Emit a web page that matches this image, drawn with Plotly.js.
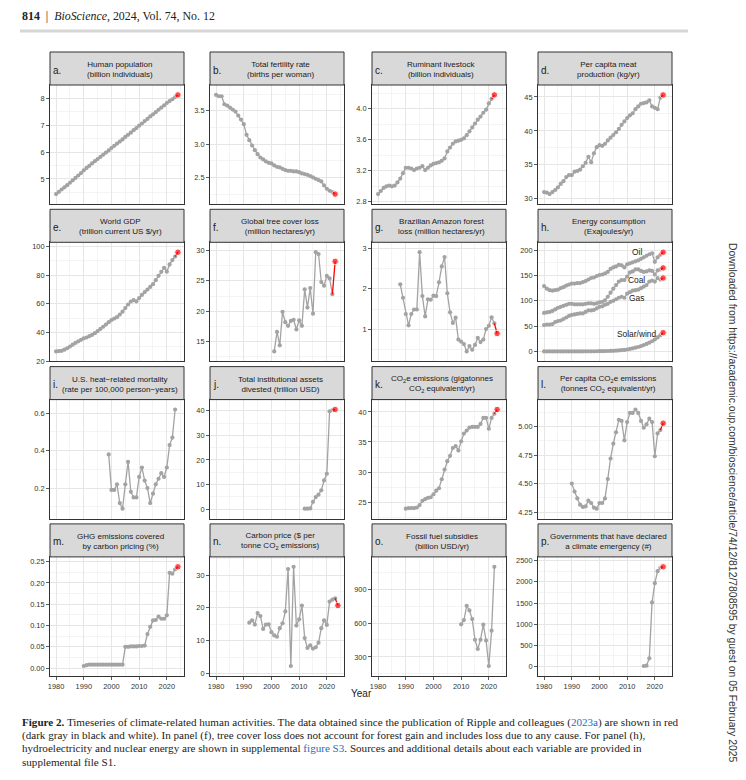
<!DOCTYPE html>
<html>
<head>
<meta charset="utf-8">
<script src="https://cdn.plot.ly/plotly-3.0.1.min.js"></script>
<style>
html,body{margin:0;padding:0;background:#fff;}
#chart{width:746px;height:780px;}
</style>
</head>
<body>
<div id="chart"></div>
<script>
function yrs(a,b){const r=[];for(let y=a;y<=b;y++)r.push(y);return r;}

// ---------------- DATA ----------------
const popYears = yrs(1980,2024);
const popVals = [4.44,4.52,4.61,4.69,4.77,4.86,4.95,5.04,5.13,5.22,5.32,5.41,5.49,5.58,5.66,5.74,5.82,5.90,5.98,6.06,6.15,6.23,6.31,6.39,6.47,6.56,6.64,6.72,6.81,6.89,6.98,7.06,7.15,7.23,7.32,7.40,7.48,7.57,7.65,7.73,7.82,7.89,7.96,8.04,8.12];

const fertYears = yrs(1980,2023);
const fertVals = [3.74,3.72,3.72,3.60,3.58,3.55,3.52,3.49,3.43,3.37,3.30,3.14,3.06,2.98,2.91,2.85,2.80,2.77,2.74,2.72,2.71,2.68,2.66,2.65,2.63,2.61,2.60,2.60,2.59,2.59,2.58,2.56,2.55,2.54,2.52,2.50,2.48,2.46,2.44,2.38,2.33,2.30,2.28,2.25];

const liveYears = yrs(1980,2022);
const liveVals = [2.90,2.94,2.98,3.00,3.01,3.00,3.01,3.05,3.10,3.17,3.24,3.24,3.23,3.21,3.23,3.24,3.26,3.21,3.24,3.27,3.29,3.30,3.31,3.33,3.36,3.45,3.50,3.55,3.58,3.59,3.60,3.62,3.66,3.71,3.76,3.81,3.86,3.90,3.95,3.99,4.07,4.13,4.18];

const meatYears = yrs(1980,2023);
const meatVals = [31.0,30.9,30.7,31.0,31.3,31.7,32.2,32.6,33.2,33.5,33.5,34.0,34.1,34.3,34.8,35.3,36.2,35.4,36.7,37.6,37.9,37.8,38.1,38.6,39.0,39.4,39.8,40.3,40.9,41.4,41.9,42.3,42.6,43.2,43.6,44.0,44.1,44.2,44.5,43.6,43.4,43.2,44.9,45.3];

const gdpYears = yrs(1980,2024);
const gdpVals = [26.8,27.0,27.2,28.0,29.0,30.2,31.5,32.7,33.8,34.9,35.9,36.5,37.4,38.3,39.5,41.0,42.5,44.0,45.5,47.2,48.7,49.7,50.7,52.5,54.5,57.0,59.5,61.6,62.5,61.7,64.0,66.2,68.2,69.9,71.8,73.7,76.5,79.5,82.3,85.1,82.4,87.5,90.5,93.0,96.0];

const treeYears = yrs(2001,2023);
const treeVals = [13.4,16.6,14.4,19.9,18.2,17.6,18.4,18.6,17.0,18.5,17.6,23.6,20.6,23.8,19.6,29.7,29.4,24.8,24.2,25.8,25.4,22.8,28.2];

const amazonYears = yrs(1988,2023);
const amazonVals = [2.11,1.78,1.38,1.10,1.38,1.49,1.49,2.90,1.82,1.32,1.74,1.73,1.83,1.82,2.16,2.55,2.78,1.89,1.42,1.16,1.29,0.75,0.70,0.64,0.46,0.59,0.50,0.62,0.79,0.69,0.75,1.01,1.09,1.30,1.15,0.90];

const energyYears = yrs(1980,2023);
const oilVals = [129,124,121,120,121,122,125,127,130,132,134,134,135,135,137,139,142,145,146,149,151,152,154,157,163,166,168,171,170,166,172,174,176,178,180,183,186,189,192,194,177,186,191,196];
const coalVals = [76,77,78,80,83,86,88,90,92,94,94,93,93,93,93,94,95,95,94,95,97,98,101,108,116,124,131,138,141,141,148,156,158,162,162,159,157,158,160,159,152,160,162,165];
const gasVals = [52,53,53,54,58,60,61,64,67,70,72,73,74,75,75,78,81,81,82,85,88,89,92,94,98,100,103,106,108,106,114,117,120,121,122,125,128,131,138,140,138,145,142,145];
const solarWindVals = [0,0,0,0,0,0,0,0,0,0,0,0,0,0,0,0.1,0.1,0.2,0.2,0.3,0.4,0.5,0.6,0.8,0.9,1.1,1.4,1.8,2.3,2.9,3.7,4.8,6.0,7.3,8.7,10.4,12.4,14.8,17.3,20.0,23.5,27.5,32.0,37.0];
const energyLabels = ['Oil','Coal','Gas','Solar/wind'];
const energyLabelX = [2013.5,2013.5,2013.5,2013.5];
const energyLabelY = [196,142,105,34];

const heatYears = yrs(1999,2023);
const heatVals = [0.38,0.19,0.19,0.22,0.12,0.09,0.22,0.34,0.18,0.15,0.15,0.26,0.31,0.24,0.20,0.12,0.17,0.22,0.25,0.28,0.26,0.31,0.43,0.47,0.62];

const divestYears = yrs(2012,2023);
const divestVals = [0.2,0.2,0.3,3.0,4.9,5.9,7.7,11.7,14.4,39.8,40.3,40.5];

const co2Years = yrs(1990,2023);
const co2Vals = [23.9,24.0,24.0,24.0,24.1,24.5,25.2,25.5,25.7,25.8,26.3,26.9,27.3,28.8,30.4,31.8,32.7,34.0,34.3,33.6,35.1,36.4,36.9,37.4,37.5,37.5,37.5,38.0,39.0,39.0,37.2,39.0,39.7,40.4];

const co2pcYears = yrs(1990,2023);
const co2pcVals = [4.50,4.43,4.37,4.315,4.295,4.30,4.35,4.33,4.29,4.28,4.33,4.33,4.37,4.54,4.72,4.85,4.95,5.06,5.05,4.88,5.04,5.12,5.12,5.15,5.12,5.05,4.99,5.02,5.07,5.04,4.74,4.94,4.97,5.03];

const pricingYears = yrs(1990,2024);
const pricingVals = [0.005,0.007,0.008,0.008,0.008,0.008,0.008,0.008,0.008,0.008,0.008,0.008,0.008,0.008,0.008,0.050,0.050,0.051,0.051,0.051,0.052,0.052,0.053,0.080,0.097,0.112,0.113,0.121,0.116,0.116,0.124,0.224,0.222,0.232,0.238];

const priceYears = yrs(1992,2024);
const priceVals = [15.5,16.2,14.9,18.4,17.5,13.6,14.9,15.0,12.6,11.6,11.2,13.8,15.3,18.9,31.8,2.3,32.5,14.6,16.5,20.7,10.8,7.8,8.6,7.6,8.0,9.4,13.8,16.2,14.8,21.9,22.5,22.9,20.7];

const subsidyYears = yrs(2010,2022);
const subsidyVals = [588,626,752,711,635,452,370,452,585,446,220,532,1097];

const emergYears = yrs(2016,2023);
const emergVals = [9,17,190,1514,1970,2254,2333,2357];

const xTickVals = [1980,1990,2000,2010,2020];

// ---------------- STYLE / GEOMETRY ----------------
const W=746, H=780;
const SANS='Liberation Sans, Arial, Helvetica, sans-serif';
const SERIF='Liberation Serif, Times New Roman, serif';
const GRAY='#a3a3a3', RED='#ff0000';
const COLS=[50,210,372,538], COL_W=134;
const ROW0=52, ROWSTEP=157.3, STRIP_H=33, PLOT_H=119;
const XR=[1977.8,2026.2];

const panels=[
 {letter:'a.', title:'Human population<br>(billion individuals)', series:[{x:popYears,y:popVals}], red:true, dtick:1},
 {letter:'b.', title:'Total fertility rate<br>(births per woman)', series:[{x:fertYears,y:fertVals}], red:true, dtick:0.5, fmt:'.1f'},
 {letter:'c.', title:'Ruminant livestock<br>(billion individuals)', series:[{x:liveYears,y:liveVals}], red:true, dtick:0.4, fmt:'.1f'},
 {letter:'d.', title:'Per capita meat<br>production (kg/yr)', series:[{x:meatYears,y:meatVals}], red:true, dtick:5},
 {letter:'e.', title:'World GDP<br>(trillion current US $/yr)', series:[{x:gdpYears,y:gdpVals}], red:true, dtick:20},
 {letter:'f.', title:'Global tree cover loss<br>(million hectares/yr)', series:[{x:treeYears,y:treeVals}], red:true, dtick:5},
 {letter:'g.', title:'Brazilian Amazon forest<br>loss (million hectares/yr)', series:[{x:amazonYears,y:amazonVals}], red:true, dtick:1},
 {letter:'h.', title:'Energy consumption<br>(Exajoules/yr)', series:[{x:energyYears,y:oilVals},{x:energyYears,y:coalVals},{x:energyYears,y:gasVals},{x:energyYears,y:solarWindVals}], red:true, dtick:50},
 {letter:'i.', title:'U.S. heat\u2212related mortality<br>(rate per 100,000 person\u2212years)', series:[{x:heatYears,y:heatVals}], red:false, dtick:0.2, fmt:'.1f'},
 {letter:'j.', title:'Total institutional assets<br>divested (trillion USD)', series:[{x:divestYears,y:divestVals}], red:true, dtick:10},
 {letter:'k.', title:'CO<sub>2</sub>e emissions (gigatonnes<br>CO<sub>2</sub> equivalent/yr)', series:[{x:co2Years,y:co2Vals}], red:true, dtick:5},
 {letter:'l.', title:'Per capita CO<sub>2</sub>e emissions<br>(tonnes CO<sub>2</sub> equivalent/yr)', series:[{x:co2pcYears,y:co2pcVals}], red:true, dtick:0.25, fmt:'.2f'},
 {letter:'m.', title:'GHG emissions covered<br>by carbon pricing (%)', series:[{x:pricingYears,y:pricingVals}], red:true, dtick:0.05, fmt:'.2f'},
 {letter:'n.', title:'Carbon price ($ per<br>tonne CO<sub>2</sub> emissions)', series:[{x:priceYears,y:priceVals}], red:true, dtick:10},
 {letter:'o.', title:'Fossil fuel subsidies<br>(billion USD/yr)', series:[{x:subsidyYears,y:subsidyVals}], red:false, dtick:300},
 {letter:'p.', title:'Governments that have declared<br>a climate emergency (#)', series:[{x:emergYears,y:emergVals}], red:true, dtick:500, fmt:'d'}
];

const traces=[], annotations=[], shapes=[];
const layout={
  width:W, height:H, margin:{l:0,r:0,t:0,b:0},
  paper_bgcolor:'#ffffff', plot_bgcolor:'#ffffff', showlegend:false,
  font:{family:SANS, color:'#333333'}
};
const GRID='#e6e6e6', MINOR='#f0f0f0';
const tickFont={family:SANS, size:7.4, color:'#333333'};

panels.forEach((p,i)=>{
  const r=Math.floor(i/4), c=i%4, n=i+1, sfx=(n===1?'':String(n));
  const sTop=ROW0+r*ROWSTEP, sBot=sTop+STRIP_H, pBot=sBot+PLOT_H;
  const x0=COLS[c], x1=COLS[c]+COL_W;
  let lo=Infinity, hi=-Infinity;
  p.series.forEach(s=>s.y.forEach(v=>{if(v<lo)lo=v; if(v>hi)hi=v;}));
  const pad=(hi-lo)*0.1;
  const bottomRow=(r===3);
  layout['xaxis'+sfx]={
    domain:[x0/W,x1/W], anchor:'y'+sfx, range:XR, autorange:false,
    tickvals:xTickVals, ticktext:xTickVals.map(String),
    showgrid:true, gridcolor:GRID, gridwidth:1,
    minor:{dtick:5, tick0:1975, showgrid:true, gridcolor:MINOR, gridwidth:0.7},
    showline:true, mirror:true, linecolor:'#333333', linewidth:1,
    ticks: bottomRow?'outside':'', ticklen:3, tickwidth:0.8, tickcolor:'#333333',
    showticklabels:bottomRow, tickfont:tickFont, zeroline:false, automargin:false, fixedrange:true
  };
  const ya={
    domain:[1-pBot/H,1-sBot/H], anchor:'x'+sfx, range:[lo-pad,hi+pad], autorange:false,
    tick0:0, dtick:p.dtick,
    showgrid:true, gridcolor:GRID, gridwidth:1,
    minor:{dtick:p.dtick/2, tick0:0, showgrid:true, gridcolor:MINOR, gridwidth:0.7},
    showline:true, mirror:true, linecolor:'#333333', linewidth:1,
    ticks:'outside', ticklen:3, tickwidth:0.8, tickcolor:'#333333',
    showticklabels:true, tickfont:tickFont, zeroline:false, automargin:false, fixedrange:true
  };
  if(p.fmt) ya.tickformat=p.fmt;
  layout['yaxis'+sfx]=ya;

  p.series.forEach(s=>{
    const n0 = p.red ? s.x.length-1 : s.x.length;
    traces.push({type:'scatter', mode:'lines+markers', x:s.x.slice(0,n0), y:s.y.slice(0,n0),
      xaxis:'x'+sfx, yaxis:'y'+sfx, line:{color:GRAY,width:1.3}, marker:{color:GRAY,size:4.2},
      hoverinfo:'skip', cliponaxis:false});
    if(p.red){
      traces.push({type:'scatter', mode:'lines+markers', x:s.x.slice(-2), y:s.y.slice(-2),
        xaxis:'x'+sfx, yaxis:'y'+sfx, line:{color:RED,width:1.3}, marker:{color:RED,size:[0,6.5]},
        hoverinfo:'skip', cliponaxis:false});
    }
  });

  shapes.push({type:'rect', xref:'paper', yref:'paper', x0:x0/W, x1:x1/W, y0:1-sBot/H, y1:1-sTop/H,
    fillcolor:'#d9d9d9', line:{color:'#333333', width:1}, layer:'above'});
  annotations.push({xref:'paper', yref:'paper', x:((x0+x1)/2+3)/W, y:1-(sTop+STRIP_H/2+1)/H,
    xanchor:'center', yanchor:'middle', showarrow:false, align:'center', text:p.title,
    font:{family:SANS, size:8.05, color:'#1a1a1a'}});
  annotations.push({xref:'paper', yref:'paper', x:(x0+1)/W, y:1-(sTop+STRIP_H/2+1.5)/H,
    xanchor:'left', yanchor:'middle', showarrow:false, text:p.letter,
    font:{family:SANS, size:10, color:'#1a1a1a'}});
});

// energy labels (panel h -> axes 8)
energyLabels.forEach((t,k)=>{
  annotations.push({xref:'x8', yref:'y8', x:energyLabelX[k], y:energyLabelY[k], text:t, showarrow:false,
    xanchor:'center', yanchor:'middle', font:{family:SANS, size:8.4, color:'#1a1a1a'}});
});

// "Year" axis title
annotations.push({xref:'paper', yref:'paper', x:361/W, y:1-693/H, xanchor:'center', yanchor:'middle',
  showarrow:false, text:'Year', font:{family:SANS, size:10, color:'#1a1a1a'}});

// header
annotations.push({xref:'paper', yref:'paper', x:20/W, y:1-16/H, xanchor:'left', yanchor:'middle', showarrow:false,
  text:'<b>814</b>\u00a0\u00a0|\u00a0\u00a0<i>BioScience</i>, 2024, Vol. 74, No. 12',
  font:{family:SERIF, size:11.9, color:'#222222'}});
shapes.push({type:'line', xref:'paper', yref:'paper', x0:20/W, x1:688/W, y0:1-31/H, y1:1-31/H,
  line:{color:'#d6d6d6', width:3}});

// caption
const BLUE='#2a6ebb';
const capLines=[
 '<b>Figure 2.</b> Timeseries of climate-related human activities. The data obtained since the publication of Ripple and colleagues (<span style="color:'+BLUE+'">2023a</span>) are shown in red',
 '(dark gray in black and white). In panel (f), tree cover loss does not account for forest gain and includes loss due to any cause. For panel (h),',
 'hydroelectricity and nuclear energy are shown in supplemental <span style="color:'+BLUE+'">figure S3</span>. Sources and additional details about each variable are provided in',
 'supplemental file S1.'
];
capLines.forEach((t,k)=>{
  annotations.push({xref:'paper', yref:'paper', x:20/W, y:1-(722+k*13.2)/H, xanchor:'left', yanchor:'middle',
    showarrow:false, text:t, font:{family:SERIF, size:11.1, color:'#222222'}});
});

// side text
annotations.push({xref:'paper', yref:'paper', x:733/W, y:1-502/H, xanchor:'center', yanchor:'middle',
  showarrow:false, textangle:90,
  text:'Downloaded from https://academic.oup.com/bioscience/article/74/12/812/7808595 by guest on 05 February 2025',
  font:{family:SANS, size:10.4, color:'#333333'}});

layout.annotations=annotations;
layout.shapes=shapes;

Plotly.newPlot('chart', traces, layout, {displayModeBar:false, staticPlot:true});
</script>
</body>
</html>
